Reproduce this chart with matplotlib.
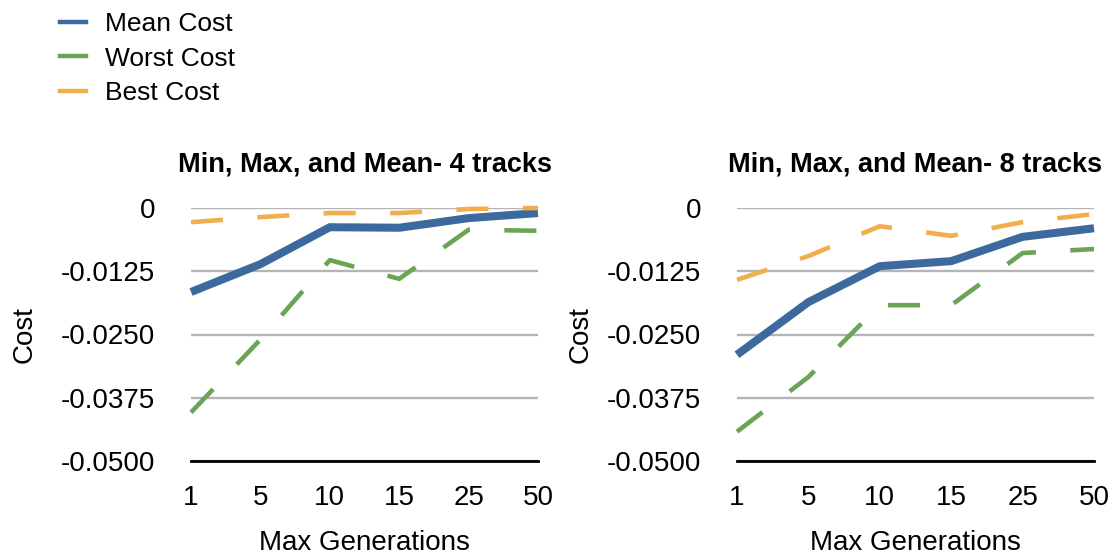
import numpy as np
import matplotlib
matplotlib.use("Agg")
import matplotlib.pyplot as plt
from matplotlib.lines import Line2D

plt.rcParams['font.family'] = ['Liberation Sans', 'DejaVu Sans']

# generations tested and the cost stats for each run size
generations = ['1', '5', '10', '15', '25', '50']

mean_4 = [-0.0166, -0.0111, -0.0038, -0.0039, -0.0020, -0.0010]
worst_4 = [-0.0404, -0.0260, -0.0103, -0.0140, -0.0043, -0.0045]
best_4 = [-0.0028, -0.0018, -0.0010, -0.0010, -0.0002, 0.0]

mean_8 = [-0.0290, -0.0186, -0.0115, -0.0105, -0.0057, -0.0040]
worst_8 = [-0.0442, -0.0334, -0.0192, -0.0192, -0.0089, -0.0081]
best_8 = [-0.0142, -0.0095, -0.0036, -0.0055, -0.0028, -0.0012]

yticks = [0, -0.0125, -0.025, -0.0375, -0.05]
ytick_labels = ['0', '-0.0125', '-0.0250', '-0.0375', '-0.0500']

blue = '#3d6a9c'
green = '#6aa556'
orange = '#f0ae4c'

fig = plt.figure(figsize=(11.14, 5.58), dpi=100)
ax1 = fig.add_axes([191/1114, 1-461/558, 347/1114, 253/558])
ax2 = fig.add_axes([737/1114, 1-461/558, 357/1114, 253/558])

def draw(ax, mean, worst, best, title, ypad):
    x = np.arange(len(generations))
    ax.plot(x, mean, color=blue, linewidth=5.8, solid_capstyle='butt', clip_on=False, zorder=3)
    ax.plot(x, worst, color=green, linewidth=3.3, dashes=(7, 7.5), dash_capstyle='butt', clip_on=False, zorder=4)
    ax.plot(x, best, color=orange, linewidth=3.3, dashes=(7, 7.5), dash_capstyle='butt', clip_on=False, zorder=5)
    ax.set_xlim(0, len(generations) - 1)
    ax.set_ylim(-0.05, 0)
    ax.set_xticks(x, generations)
    ax.set_yticks(yticks, ytick_labels)
    ax.tick_params(axis='both', length=0, labelsize=20)
    ax.tick_params(axis='y', pad=26)
    ax.tick_params(axis='x', pad=17)
    for s in ['left', 'right', 'top']:
        ax.spines[s].set_visible(False)
    ax.spines['bottom'].set_linewidth(2)
    ax.spines['bottom'].set_color('black')
    ax.spines['bottom'].set_zorder(6)
    ax.grid(axis='y', color='#b5b5b5', linewidth=1.7)
    ax.set_axisbelow(True)
    ax.set_title(title, fontsize=19.5, fontweight='bold', pad=26)
    ax.set_xlabel('Max Generations', fontsize=20, labelpad=14)
    ax.set_ylabel('Cost', fontsize=20, labelpad=ypad)

draw(ax1, mean_4, worst_4, best_4, 'Min, Max, and Mean- 4 tracks', 16.5)
draw(ax2, mean_8, worst_8, best_8, 'Min, Max, and Mean- 8 tracks', 9)

handles = [Line2D([], [], color=blue, linewidth=3.2),
           Line2D([], [], color=green, linewidth=3.2),
           Line2D([], [], color=orange, linewidth=3.2)]
fig.legend(handles, ['Mean Cost', 'Worst Cost', 'Best Cost'], loc='upper left',
           bbox_to_anchor=(60/1114, 1 - 12/558), frameon=False, fontsize=19,
           handlelength=1.0, handletextpad=0.7, labelspacing=0.4,
           borderpad=0, borderaxespad=0)

fig.savefig('out.png', dpi=100)
